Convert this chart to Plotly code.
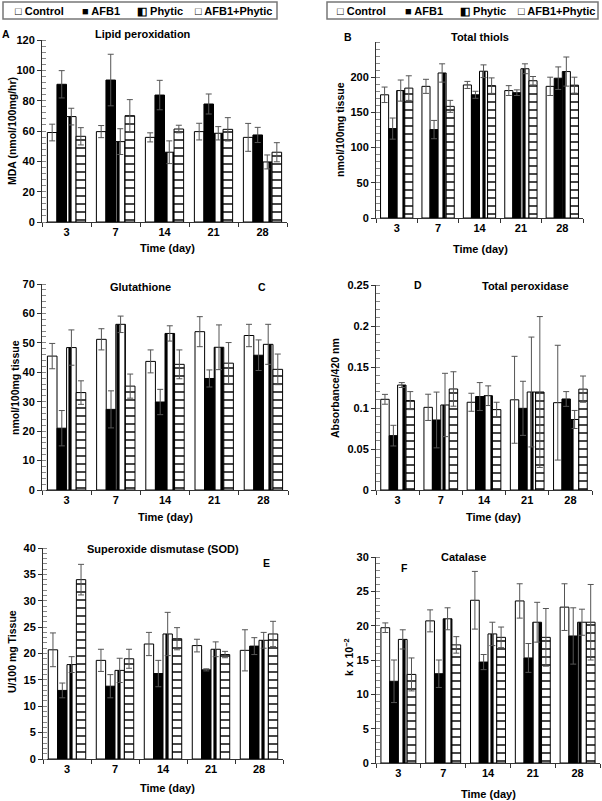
import plotly.graph_objects as go

W, H = 602, 801

days = ["3", "7", "14", "21", "28"]
groups = ["Control", "AFB1", "Phytic", "AFB1+Phytic"]

# A - Lipid peroxidation (MDA)
lipid_mean = [[59, 59.6, 55.8, 59.6, 55.8],
              [90.8, 93.6, 83.7, 77.8, 57.4],
              [69.5, 53, 46, 58.5, 39.6],
              [56.5, 70.1, 61.3, 61.1, 46]]
lipid_err = [[5.5, 4, 3, 5.5, 9.2],
             [9, 17, 9.7, 6.6, 5],
             [5.5, 8.5, 7.5, 4.4, 4.6],
             [5.7, 10.6, 2.5, 7.7, 6.3]]

# B - Total thiols
thiol_mean = [[175, 187, 189, 181, 187],
              [127, 125.6, 175, 178, 198.6],
              [181, 206, 208.5, 212, 208],
              [184.5, 158.6, 188, 195, 188.7]]
thiol_err = [[11, 10, 5, 7, 13],
             [15, 13, 5, 4, 16],
             [15, 13, 9, 7, 20.7],
             [17.5, 8.5, 11, 6, 11.3]]

# C - Glutathione
gsh_mean = [[45.5, 51.2, 43.7, 53.8, 52.5],
            [21, 27.4, 29.9, 37.9, 45.8],
            [48.4, 56.3, 53.2, 48.5, 49.5],
            [33.1, 35.3, 42.7, 43.1, 41]]
gsh_err = [[4.3, 3.6, 3.9, 5.1, 3.8],
           [6, 6.3, 4.3, 2.9, 5.2],
           [6, 2.8, 2.6, 7.6, 6.8],
           [4, 4.1, 4.9, 7.0, 5.2]]

# D - Total peroxidase
perox_mean = [[0.1106, 0.1008, 0.107, 0.11, 0.1065],
              [0.0663, 0.0854, 0.114, 0.0996, 0.111],
              [0.128, 0.1037, 0.115, 0.1195, 0.086],
              [0.109, 0.1232, 0.098, 0.1195, 0.123]]
perox_err = [[0.006, 0.016, 0.011, 0.053, 0.07],
             [0.0126, 0.034, 0.017, 0.033, 0.009],
             [0.003, 0.0386, 0.012, 0.067, 0.011],
             [0.011, 0.021, 0.009, 0.092, 0.016]]

# E - Superoxide dismutase
sod_mean = [[20.7, 18.7, 21.8, 21.5, 20.6],
            [13, 13.8, 16.2, 16.9, 21.4],
            [17.9, 16.8, 23.7, 20.8, 22.5],
            [34, 19, 22.8, 19.8, 23.7]]
sod_err = [[3.2, 2.1, 2.2, 1.2, 3.9],
           [1.4, 2.2, 2.5, 0.2, 1.6],
           [1.5, 2.3, 4.1, 1.4, 1.5],
           [2.9, 1.8, 2.1, 0.6, 2.4]]

# F - Catalase
cat_mean = [[19.7, 20.7, 23.7, 23.6, 22.7],
            [11.9, 13, 14.7, 15.3, 18.5],
            [18, 21, 18.8, 20.5, 20.5],
            [12.9, 17.2, 18.3, 18.3, 20.5]]
cat_err = [[0.7, 1.6, 4.2, 2.5, 3.4],
           [3.1, 2, 1.1, 2.1, 4.1],
           [1.4, 1.6, 1.7, 2.9, 1.9],
           [2.4, 1.2, 1.5, 4.2, 5.5]]

FONT = "Liberation Sans, Arial, Helvetica, sans-serif"


def fx(x):
    return x / W


def fy(y):
    return 1 - y / H


panels = [
    dict(mean=lipid_mean, err=lipid_err, rng=[0, 120], dtick=20, tmax=120, minor=4,
         xd=(42, 287), yd=(40, 222), ytitle="MDA (nmol/100mg/hr)", yt=(12, 131),
         xt=(167, 248), title="Lipid peroxidation", tp=(143, 34), lab="A", lp=(6, 34)),
    dict(mean=thiol_mean, err=thiol_err, rng=[0, 250], dtick=50, tmax=200, minor=10,
         xd=(376, 583), yd=(42, 218), ytitle="nmol/100mg tissue", yt=(340, 130),
         xt=(480, 249), title="Total thiols", tp=(480, 37), lab="B", lp=(348, 37)),
    dict(mean=gsh_mean, err=gsh_err, rng=[0, 70], dtick=10, tmax=70, minor=2,
         xd=(42, 288), yd=(284, 490), ytitle="nmol/100mg tissue", yt=(15, 388),
         xt=(165, 517), title="Glutathione", tp=(140, 287), lab="C", lp=(262, 287)),
    dict(mean=perox_mean, err=perox_err, rng=[0, 0.25], dtick=0.05, tmax=0.25, minor=0.01,
         xd=(376, 592), yd=(285, 490), ytitle="Absorbance/420 nm", yt=(335, 388),
         xt=(493, 517), title="Total peroxidase", tp=(525, 286), lab="D", lp=(418, 285)),
    dict(mean=sod_mean, err=sod_err, rng=[0, 40], dtick=5, tmax=40, minor=1,
         xd=(43, 283), yd=(548, 759), ytitle="U/100 mg Tissue", yt=(12, 652),
         xt=(167, 788), title="Superoxide dismutase (SOD)", tp=(163, 549), lab="E", lp=(266, 563)),
    dict(mean=cat_mean, err=cat_err, rng=[0, 30], dtick=5, tmax=30, minor=1,
         xd=(376, 600), yd=(557, 763), ytitle="k x 10<sup>\u22122</sup>", yt=(348, 657),
         xt=(488, 794), title="Catalase", tp=(463, 557), lab="F", lp=(404, 568)),
]

styles = [
    dict(color="white", pattern=None),
    dict(color="black", pattern=None),
    dict(color="white", pattern=dict(shape="|", fgcolor="black", bgcolor="white", size=8, solidity=0.4)),
    dict(color="white", pattern=dict(shape="-", fgcolor="black", bgcolor="white", size=8, solidity=0.18)),
]

fig = go.Figure()
annotations = []
layout_axes = {}

for i, p in enumerate(panels, start=1):
    sfx = "" if i == 1 else str(i)
    for g, name in enumerate(groups):
        marker = dict(color=styles[g]["color"], line=dict(color="black", width=1))
        if styles[g]["pattern"]:
            marker["pattern"] = styles[g]["pattern"]
        fig.add_trace(go.Bar(
            x=days, y=p["mean"][g], name=name, showlegend=False,
            marker=marker, offsetgroup=str(g),
            error_y=dict(type="data", array=p["err"][g], color="#555", thickness=1, width=3),
            xaxis="x" + sfx, yaxis="y" + sfx,
        ))
    layout_axes["xaxis" + sfx] = dict(
        domain=[fx(p["xd"][0]), fx(p["xd"][1])], anchor="y" + sfx, type="category",
        showline=True, linecolor="#333", linewidth=1, ticks="outside", ticklen=4,
        tickcolor="#333", tickson="boundaries", showgrid=False, zeroline=False,
        tickfont=dict(family=FONT, size=11, color="black", weight="bold"),
        automargin=False, fixedrange=True,
    )
    tickvals = []
    v = 0.0
    while v <= p["tmax"] + 1e-9:
        tickvals.append(round(v, 4))
        v += p["dtick"]
    ticktext = [("%g" % t) for t in tickvals]
    layout_axes["yaxis" + sfx] = dict(
        domain=[fy(p["yd"][1]), fy(p["yd"][0])], anchor="x" + sfx, range=p["rng"],
        tickvals=tickvals, ticktext=ticktext,
        showline=True, linecolor="#333", linewidth=1, ticks="outside", ticklen=4,
        tickcolor="#333", showgrid=False, zeroline=False,
        minor=dict(dtick=p["minor"], tick0=0, ticks="inside", ticklen=4, tickcolor="#888", showgrid=False),
        tickfont=dict(family=FONT, size=11, color="black", weight="bold"),
        automargin=False, fixedrange=True,
    )
    annotations.append(dict(text=p["ytitle"], x=fx(p["yt"][0]), y=fy(p["yt"][1]), xref="paper", yref="paper",
                            textangle=-90, showarrow=False, xanchor="center", yanchor="middle",
                            font=dict(family=FONT, size=10.5, color="black", weight="bold")))
    annotations.append(dict(text="Time (day)", x=fx(p["xt"][0]), y=fy(p["xt"][1]), xref="paper", yref="paper",
                            showarrow=False, xanchor="center", yanchor="middle",
                            font=dict(family=FONT, size=11, color="black", weight="bold")))
    annotations.append(dict(text=p["title"], x=fx(p["tp"][0]), y=fy(p["tp"][1]), xref="paper", yref="paper",
                            showarrow=False, xanchor="center", yanchor="middle",
                            font=dict(family=FONT, size=11, color="black", weight="bold")))
    annotations.append(dict(text=p["lab"], x=fx(p["lp"][0]), y=fy(p["lp"][1]), xref="paper", yref="paper",
                            showarrow=False, xanchor="center", yanchor="middle",
                            font=dict(family=FONT, size=10.5, color="black", weight="bold")))

# Legend boxes (drawn as text)
legend_symbols = ["\u25a1 ", "\u25a0 ", "\u25e7 ", "\u25a1 "]
legend_boxes = [(3, 277, [13, 80, 135, 193]), (327, 598, [335, 403, 458, 516])]
shapes = []
for x0, x1, xs in legend_boxes:
    shapes.append(dict(type="rect", xref="paper", yref="paper", x0=fx(x0), x1=fx(x1), y0=fy(19), y1=fy(2),
                       line=dict(color="#777", width=1.5), fillcolor="rgba(0,0,0,0)"))
    for sym, name, xx in zip(legend_symbols, groups, xs):
        annotations.append(dict(text=sym + name, x=fx(xx), y=fy(10.5), xref="paper", yref="paper",
                                showarrow=False, xanchor="left", yanchor="middle",
                                font=dict(family=FONT, size=11, color="black", weight="bold")))

fig.update_layout(
    width=W, height=H, margin=dict(l=0, r=0, t=0, b=0),
    paper_bgcolor="white", plot_bgcolor="white",
    barmode="group", bargap=0.22, bargroupgap=0,
    font=dict(family=FONT, size=11, color="black"),
    showlegend=False, annotations=annotations, shapes=shapes,
    template="none",
    **layout_axes,
)

fig.write_html("out.html", config={"displayModeBar": False},
               post_script="document.body.style.margin='0px';document.body.style.overflow='hidden';")
